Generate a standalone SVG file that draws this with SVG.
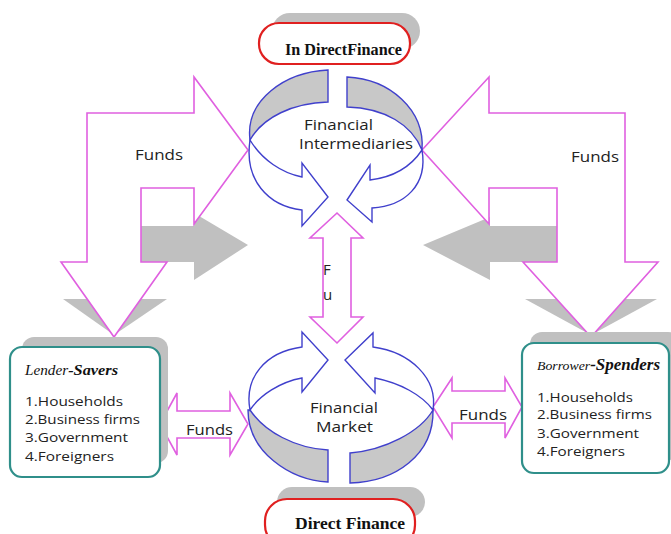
<svg xmlns="http://www.w3.org/2000/svg" width="671" height="534" viewBox="0 0 671 534">
<style>
.sh{fill:#c0c0c0;stroke:none}
.pk{fill:#fff;stroke:#e060e0;stroke-width:1.6;stroke-linejoin:miter}
.ring{fill:#fff;stroke:#4040cc;stroke-width:1.4}
.band{fill:#c8c8c8;stroke:#4040cc;stroke-width:1.4}
.pill{fill:#fff;stroke:#e02020;stroke-width:2.2}
.box{fill:#fff;stroke:#2f8f8a;stroke-width:2.2}
.lbl{font-family:"Open Sans","Liberation Sans",sans-serif;font-size:15px;fill:#222}
.lst{font-family:"Open Sans","Liberation Sans",sans-serif;font-size:13.5px;fill:#222}
.ttl{font-family:"Liberation Serif",serif;font-weight:bold;font-size:17px;fill:#111}
.hd{font-family:"Liberation Serif",serif;font-style:italic;fill:#111}
</style>
<rect width="671" height="534" fill="#fff"/>

<g id="shadows">
<polygon class="sh" points="141,226 194,226 194,213 248,245 194,280 194,262 141,262"/>
<polygon class="sh" points="63,299 167,299 114,335"/>
<polygon class="sh" points="557,226 490,226 490,217 423,245 490,280 490,262 557,262"/>
<polygon class="sh" points="525,299 657,299 591,335"/>
</g>

<g id="connectors">
<polygon id="funds-left" class="pk" points="248,150 194,77 194,113 87,113 87,262 61,262 114,337 167,262 141,262 141,188 194,188 194,224"/>
<polygon id="funds-right" class="pk" points="422,150 489,77 489,113 625,113 625,262 658,262 591,337 523,262 557,262 557,188 489,188 489,224"/>
<polygon id="funds-vertical" class="pk" points="337,213 363,238 351,238 351,317 363,317 337,343 310,317 323,317 323,238 310,238"/>
<polygon id="funds-lower-left" class="pk" points="160,424 177,393 177,411 230,411 230,393 248,424 230,455 230,438 177,438 177,455"/>
<polygon id="funds-lower-right" class="pk" points="433,407 452,378 452,391 505,391 505,378 522,407 505,438 505,423 452,423 452,438"/>
<text class="lbl" x="135" y="160" textLength="48" lengthAdjust="spacingAndGlyphs">Funds</text>
<text class="lbl" x="571" y="162" textLength="48" lengthAdjust="spacingAndGlyphs">Funds</text>
<text class="lbl" x="186" y="435" textLength="47" lengthAdjust="spacingAndGlyphs">Funds</text>
<text class="lbl" x="459" y="420" textLength="48" lengthAdjust="spacingAndGlyphs">Funds</text>
<text class="lbl" x="323" y="275">F</text>
<text class="lbl" x="323" y="300">u</text>
</g>

<g id="financial-intermediaries">
<path class="band" d="M328,70 L328,102 C293,103 263,117 250,140 C245,100 285,72 328,70 Z"/>
<path class="ring" d="M250,140 C262,160 282,173 302,177 L302,163 L328,197 L302,226 L302,210 C268,206 244,180 250,140 Z"/>
<path class="band" d="M347,77 L347,107 C385,108 412,125 422,150 C425,110 390,79 347,77 Z"/>
<path class="ring" d="M422,150 C412,165 395,177 370,180 L370,165 L347,200 L372,222 L372,208 C405,206 428,185 422,150 Z"/>
<text class="lbl" x="304" y="130" textLength="69" lengthAdjust="spacingAndGlyphs">Financial</text>
<text class="lbl" x="299" y="149" textLength="114" lengthAdjust="spacingAndGlyphs">Intermediaries</text>
</g>

<g id="financial-market">
<path class="band" d="M250,410 C265,432 295,448 328,450 L328,482 C290,480 248,452 248,410 Z"/>
<path class="ring" d="M302,347 L302,332 L328,360 L302,392 L302,378 C280,382 260,395 250,410 C244,378 265,352 302,347 Z"/>
<path class="band" d="M433,410 C420,432 385,450 350,453 L350,483 C395,482 434,455 433,410 Z"/>
<path class="ring" d="M373,347 L373,333 L345,360 L375,393 L375,378 C400,383 422,395 433,410 C438,378 410,352 373,347 Z"/>
<text class="lbl" x="310" y="413" textLength="68" lengthAdjust="spacingAndGlyphs">Financial</text>
<text class="lbl" x="316" y="432" textLength="57" lengthAdjust="spacingAndGlyphs">Market</text>
</g>

<g id="indirect-finance">
<rect class="sh" x="272" y="13" width="148" height="36" rx="18"/>
<rect class="pill" x="259" y="23" width="151" height="41" rx="20"/>
<text class="ttl" x="285" y="55" textLength="117" lengthAdjust="spacingAndGlyphs">In DirectFinance</text>
</g>

<g id="direct-finance">
<rect class="sh" x="277" y="487" width="148" height="30" rx="15"/>
<rect class="pill" x="265" y="499" width="150" height="48" rx="22"/>
<text class="ttl" x="295" y="529" textLength="110" lengthAdjust="spacingAndGlyphs">Direct Finance</text>
</g>

<g id="lender-savers">
<rect class="sh" x="22" y="337" width="146" height="126" rx="12"/>
<rect class="box" x="10" y="347" width="150" height="130" rx="12"/>
<text class="hd" x="25" y="375" textLength="93" lengthAdjust="spacingAndGlyphs"><tspan font-size="14">Lender</tspan><tspan font-size="15" font-weight="bold">-Savers</tspan></text>
<text class="lst" x="25" y="406" textLength="98" lengthAdjust="spacingAndGlyphs">1.Households</text>
<text class="lst" x="25" y="424" textLength="115" lengthAdjust="spacingAndGlyphs">2.Business firms</text>
<text class="lst" x="25" y="442" textLength="103" lengthAdjust="spacingAndGlyphs">3.Government</text>
<text class="lst" x="25" y="461" textLength="89" lengthAdjust="spacingAndGlyphs">4.Foreigners</text>
</g>

<g id="borrower-spenders">
<rect class="sh" x="530" y="332" width="150" height="128" rx="12"/>
<rect class="box" x="522" y="343" width="147" height="130" rx="12"/>
<text class="hd" x="537" y="370" textLength="123" lengthAdjust="spacingAndGlyphs"><tspan font-size="13">Borrower</tspan><tspan font-size="16" font-weight="bold">-Spenders</tspan></text>
<text class="lst" x="537" y="402" textLength="96" lengthAdjust="spacingAndGlyphs">1.Households</text>
<text class="lst" x="537" y="419" textLength="115" lengthAdjust="spacingAndGlyphs">2.Business firms</text>
<text class="lst" x="537" y="438" textLength="102" lengthAdjust="spacingAndGlyphs">3.Government</text>
<text class="lst" x="537" y="456" textLength="88" lengthAdjust="spacingAndGlyphs">4.Foreigners</text>
</g>
</svg>
